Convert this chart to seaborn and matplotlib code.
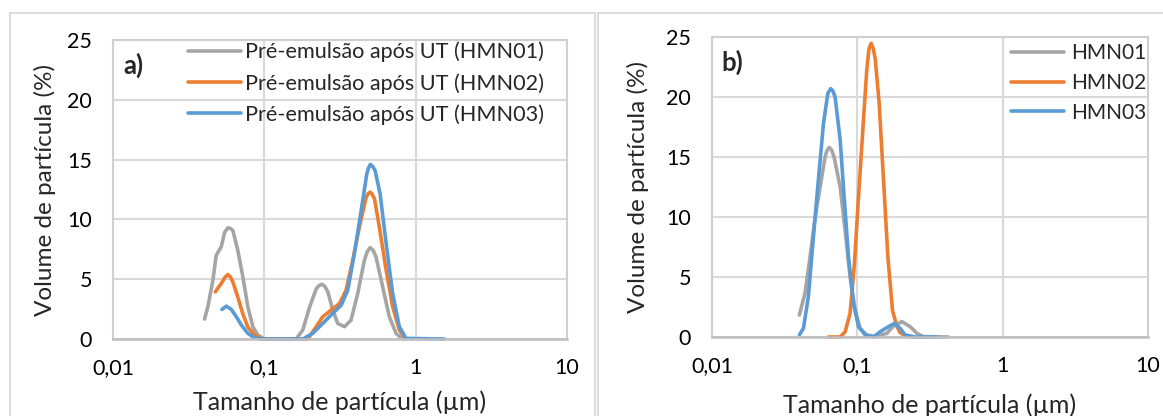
import pandas as pd
import seaborn as sns
import matplotlib.pyplot as plt
from matplotlib.patches import Rectangle

# Panel a) - pre-emulsions after Ultra-Turrax, particle size (um) vs volume (%)
size_a01 = [0.04027, 0.04236, 0.04571, 0.04808, 0.05188, 0.05458, 0.05741, 0.05957, 0.06194,
            0.06683, 0.07211, 0.0778, 0.08394, 0.09057, 0.1, 0.1622, 0.1795, 0.1995, 0.2203,
            0.2291, 0.2399, 0.2512, 0.263, 0.2831, 0.3055, 0.3388, 0.3741, 0.414, 0.4581,
            0.4786, 0.5, 0.5248, 0.547, 0.6053, 0.6699, 0.7413, 0.8204]
vol_a01 = [1.67, 2.7, 4.9, 7.0, 7.7, 8.9, 9.3, 9.25, 9.08,
           7.4, 5.2, 2.7, 1.03, 0.33, 0.0, 0.0, 0.75, 2.7, 4.2,
           4.45, 4.58, 4.4, 3.94, 2.42, 1.3, 1.03, 1.58, 3.8, 6.58,
           7.3, 7.64, 7.4, 6.86, 4.36, 1.86, 0.47, 0.0]

size_a02 = [0.04742, 0.05188, 0.05495, 0.05741, 0.05957, 0.06194, 0.06683, 0.07211, 0.0778,
            0.0861, 0.0955, 0.1936, 0.2203, 0.2432, 0.2761, 0.3141, 0.3467, 0.3837, 0.4246,
            0.471, 0.4853, 0.5, 0.5164, 0.5346, 0.5754, 0.6383, 0.7047, 0.7798, 0.863]
vol_a02 = [3.94, 4.64, 5.15, 5.39, 5.2, 4.78, 3.5, 2.1, 1.0,
           0.33, 0.0, 0.0, 1.03, 1.86, 2.42, 2.97, 4.08, 6.58, 9.36,
           11.86, 12.15, 12.28, 12.1, 11.7, 9.36, 5.75, 2.7, 0.75, 0.0]

size_a03 = [0.05248, 0.0561, 0.06053, 0.06531, 0.07047, 0.0778, 0.0861, 0.0955,
            0.1795, 0.2089, 0.2432, 0.2831, 0.3221, 0.3556, 0.3936, 0.4365, 0.4753, 0.4898,
            0.5023, 0.5188, 0.5395, 0.5821, 0.6383, 0.7047, 0.7798, 0.863, 1.545]
vol_a03 = [2.47, 2.75, 2.47, 1.86, 1.17, 0.47, 0.1, 0.0,
           0.0, 0.47, 1.3, 2.14, 2.83, 4.08, 7.14, 10.75, 13.8, 14.35,
           14.6, 14.45, 14.08, 12.14, 7.97, 3.8, 1.03, 0.05, 0.0]

# Panel b) - final emulsions
size_b01 = [0.0399, 0.04365, 0.04732, 0.05129, 0.05546, 0.05998, 0.06166, 0.06397, 0.06637,
            0.06918, 0.07621, 0.08241, 0.08913, 0.09661, 0.1045, 0.1161, 0.1327, 0.1596,
            0.1774, 0.2028, 0.2312, 0.257, 0.2851, 0.4217]
vol_b01 = [1.83, 3.64, 6.7, 10.0, 12.5, 15.0, 15.5, 15.8, 15.6,
           15.0, 12.5, 8.9, 5.0, 2.25, 0.72, 0.17, 0.05, 0.3,
           0.92, 1.28, 0.86, 0.3, 0.03, 0.0]

size_b02 = [0.06324, 0.07621, 0.08241, 0.08913, 0.0955, 0.1019, 0.1091, 0.1161, 0.1202,
            0.1245, 0.1288, 0.1327, 0.1413, 0.1514, 0.1622, 0.1746, 0.1871, 0.1972,
            0.2193, 0.2432]
vol_b02 = [0.0, 0.0, 0.44, 1.97, 6.1, 11.7, 17.25, 22.25, 24.0,
           24.47, 24.0, 23.2, 19.5, 13.1, 6.7, 2.2, 0.9, 0.35,
           0.05, 0.0]

size_b03 = [0.0399, 0.04256, 0.04603, 0.04989, 0.05395, 0.05848, 0.06266, 0.06561, 0.06792,
            0.07031, 0.07621, 0.0811, 0.0869, 0.09397, 0.1019, 0.1132, 0.1291, 0.1435,
            0.1637, 0.1803, 0.1972, 0.2133, 0.2512, 0.3532]
vol_b03 = [0.17, 0.72, 3.36, 8.36, 13.1, 17.8, 20.3, 20.7, 20.5,
           20.0, 16.4, 11.7, 6.7, 2.8, 0.86, 0.17, 0.0, 0.44,
           0.86, 1.14, 0.72, 0.17, 0.0, 0.0]

labels_a = ['Pré-emulsão após UT (HMN01)', 'Pré-emulsão após UT (HMN02)', 'Pré-emulsão após UT (HMN03)']
labels_b = ['HMN01', 'HMN02', 'HMN03']
colors = ['#A5A5A5', '#ED7D31', '#5B9BD5']

x_ticks = [0.01, 0.1, 1, 10]
x_tick_labels = ['0,01', '0,1', '1', '10']
y_ticks = [0, 5, 10, 15, 20, 25]


def make_df(sizes, vols, labels):
    frames = []
    for s, v, lab in zip(sizes, vols, labels):
        frames.append(pd.DataFrame({'size': s, 'vol': v, 'serie': lab}))
    return pd.concat(frames, ignore_index=True)


df_a = make_df([size_a01, size_a02, size_a03], [vol_a01, vol_a02, vol_a03], labels_a)
df_b = make_df([size_b01, size_b02, size_b03], [vol_b01, vol_b02, vol_b03], labels_b)

sns.set_style('white')
plt.rcParams['font.family'] = ['Lato', 'DejaVu Sans']

fig = plt.figure(figsize=(11.63, 4.16), dpi=100)

# chart area borders (as in the Excel sheet)
fig.patches.append(Rectangle((10 / 1163, -0.1), 585 / 1163, 1.1 - 13 / 416, transform=fig.transFigure,
                             fill=False, edgecolor='#d9d9d9', linewidth=1.3))
fig.patches.append(Rectangle((598 / 1163, -0.1), 0.6, 1.1 - 13 / 416, transform=fig.transFigure,
                             fill=False, edgecolor='#d9d9d9', linewidth=1.3))

ax_a = fig.add_axes([113 / 1163, 1 - 339 / 416, 454 / 1163, 299 / 416])
ax_b = fig.add_axes([712 / 1163, 1 - 337 / 416, 436 / 1163, 300 / 416])

panels = [(ax_a, df_a, labels_a, 'a)'), (ax_b, df_b, labels_b, 'b)')]
for ax, df, labels, tag in panels:
    sns.lineplot(data=df, x='size', y='vol', hue='serie', hue_order=labels, palette=colors,
                 estimator=None, sort=False, linewidth=2.6, ax=ax)
    for line in ax.get_lines():
        line.set_clip_on(False)
        line.set_solid_capstyle('round')
        line.set_solid_joinstyle('round')
    ax.set_xscale('log')
    ax.set_xlim(0.01, 10)
    ax.set_ylim(0, 25)
    ax.set_xticks(x_ticks)
    ax.set_xticklabels(x_tick_labels)
    ax.set_yticks(y_ticks)
    ax.minorticks_off()
    ax.tick_params(axis='both', length=0, labelsize=15.5, colors='black')
    ax.tick_params(axis='x', pad=14)
    ax.tick_params(axis='y', pad=15)
    ax.grid(True, color='#d9d9d9', linewidth=1.5)
    ax.set_axisbelow(True)
    for side in ['top', 'right', 'left']:
        ax.spines[side].set_color('#d0d0d0')
        ax.spines[side].set_linewidth(1.5)
    ax.spines['bottom'].set_color('#bfbfbf')
    ax.spines['bottom'].set_linewidth(1.8)
    ax.set_xlabel('Tamanho de partícula (µm)', fontsize=18)
    ax.set_ylabel('Volume de partícula (%)', fontsize=17.5)
    ax.text(0.022, 0.915, tag, transform=ax.transAxes, fontsize=18.5, fontweight='bold',
            va='center', ha='left')

ax_a.xaxis.set_label_coords(0.5, -0.171)
ax_a.yaxis.set_label_coords(-0.126, 0.5)
ax_b.xaxis.set_label_coords(0.5, -0.187)
ax_b.yaxis.set_label_coords(-0.1445, 0.5)

ax_a.legend(frameon=False, loc='upper left', bbox_to_anchor=(0.165, 0.995), fontsize=15.6,
            handlelength=2.45, handletextpad=0.2, labelspacing=0.5, borderpad=0, borderaxespad=0)
ax_b.legend(frameon=False, loc='upper left', bbox_to_anchor=(0.686, 0.98), fontsize=15,
            handlelength=2.55, handletextpad=0.33, labelspacing=0.47, borderpad=0, borderaxespad=0)

fig.savefig('out.png', dpi=100, facecolor='white')
